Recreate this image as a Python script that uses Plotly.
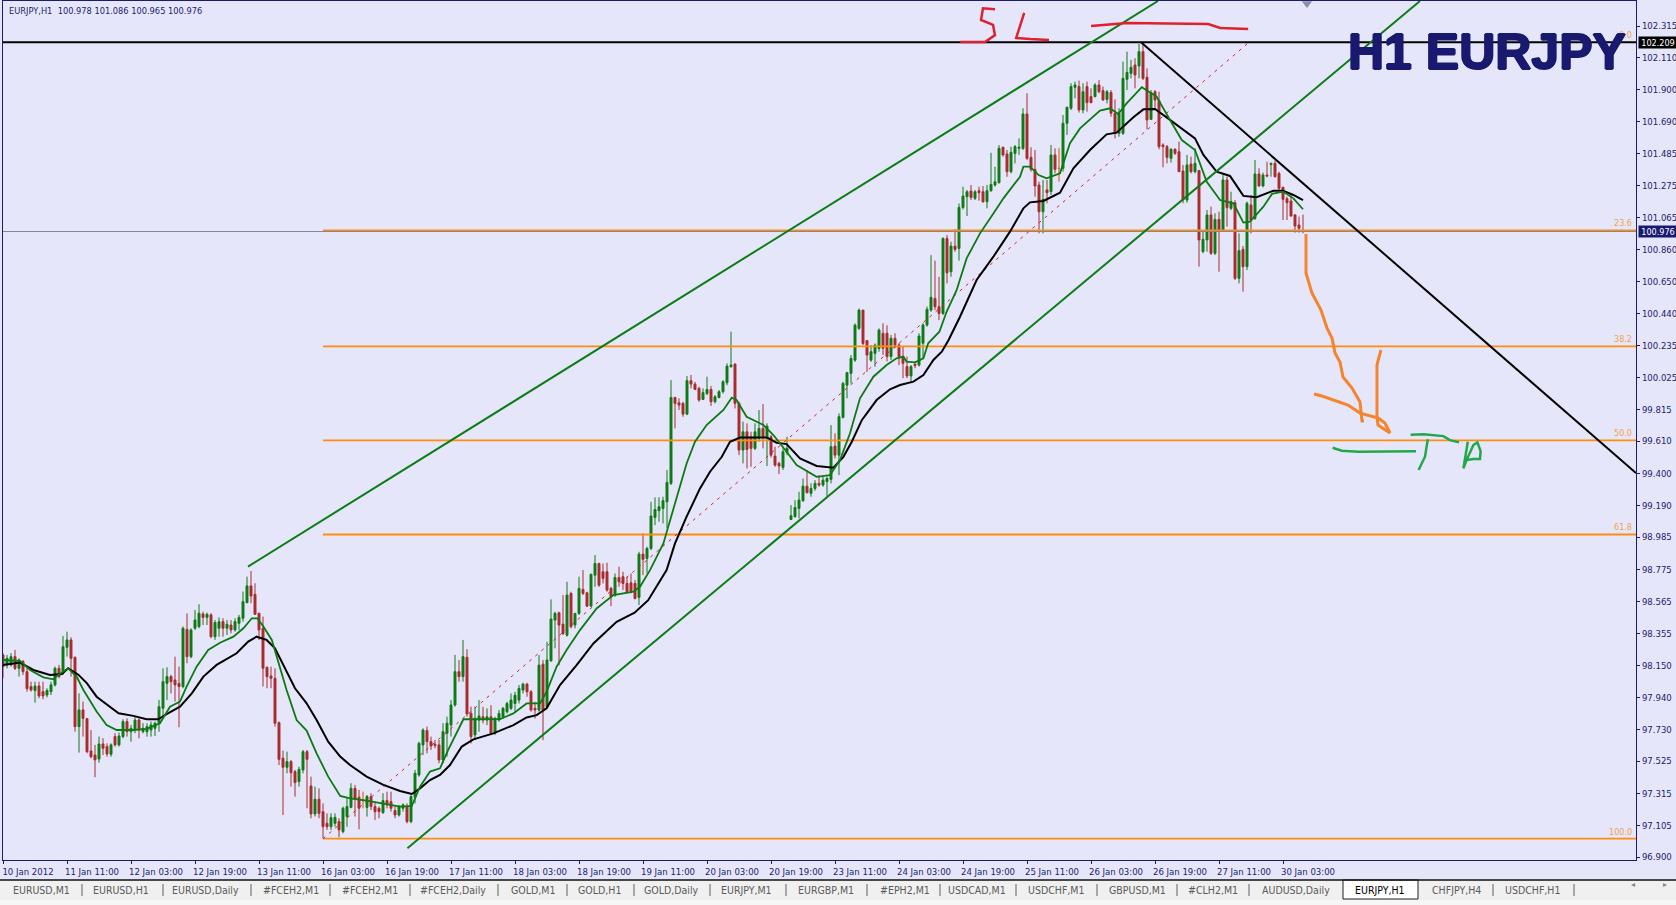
import plotly.graph_objects as go

# ---- bar axis: one bar per hour, labelled every 16 bars
time_labels = ["10 Jan 2012","11 Jan 11:00","12 Jan 03:00","12 Jan 19:00","13 Jan 11:00","16 Jan 03:00","16 Jan 19:00",
               "17 Jan 11:00","18 Jan 03:00","18 Jan 19:00","19 Jan 11:00","20 Jan 03:00","20 Jan 19:00","23 Jan 11:00",
               "24 Jan 03:00","24 Jan 19:00","25 Jan 11:00","26 Jan 03:00","26 Jan 19:00","27 Jan 11:00","30 Jan 03:00"]
price_ticks = [102.315,102.110,101.900,101.690,101.485,101.275,101.065,100.860,100.650,100.440,100.235,100.025,99.815,
               99.610,99.400,99.190,98.985,98.775,98.565,98.355,98.150,97.940,97.730,97.525,97.315,97.105,96.900]

opens = [98.217,98.152,98.152,98.206,98.130,98.174,98.108,98.011,97.985,98.015,
97.978,97.956,97.978,98.022,98.130,98.098,98.267,98.315,98.202,97.750,
97.859,97.802,97.591,97.565,97.539,97.637,97.620,97.570,97.685,97.631,
97.685,97.783,97.717,97.728,97.793,97.717,97.717,97.728,97.739,97.772,
97.870,98.032,98.076,98.054,98.032,98.011,98.384,98.206,98.391,98.402,
98.484,98.462,98.478,98.336,98.391,98.434,98.391,98.412,98.380,98.423,
98.456,98.558,98.667,98.612,98.489,98.391,98.137,98.080,98.065,97.776,
97.544,97.485,97.522,97.457,97.392,97.468,97.587,97.363,97.181,97.277,
97.196,97.120,97.098,97.120,97.131,97.066,97.164,97.224,97.348,97.290,
97.272,97.224,97.294,97.229,97.218,97.190,97.268,97.261,97.203,97.174,
97.218,97.229,97.131,97.290,97.435,97.631,97.724,97.652,97.635,97.631,
97.533,97.707,97.761,97.891,98.108,98.076,98.202,97.837,97.696,97.793,
97.814,97.793,97.814,97.706,97.793,97.814,97.847,97.869,97.901,97.923,
97.988,98.027,97.977,97.869,97.858,98.157,97.880,98.179,98.444,98.492,
98.418,98.346,98.618,98.412,98.488,98.644,98.622,98.535,98.737,98.813,
98.759,98.759,98.651,98.607,98.722,98.727,98.683,98.687,98.683,98.592,
98.874,98.846,98.911,99.113,99.157,99.172,99.215,99.335,99.895,99.860,
99.856,99.786,100.004,99.982,99.954,99.882,99.921,99.947,99.867,99.895,
99.932,99.991,100.095,100.112,99.856,99.552,99.671,99.639,99.563,99.628,
99.693,99.628,99.639,99.513,99.465,99.439,99.535,99.100,99.118,99.172,
99.222,99.317,99.270,99.302,99.335,99.324,99.346,99.361,99.578,99.519,
99.765,99.975,100.052,100.138,100.345,100.464,100.265,100.138,100.182,100.214,
100.313,100.313,100.161,100.280,100.237,100.161,100.096,100.035,100.111,100.106,
100.248,100.367,100.464,100.540,100.486,100.442,100.931,100.714,100.881,100.866,
101.133,101.203,101.240,101.192,101.242,101.235,101.170,101.242,101.279,101.294,
101.525,101.481,101.366,101.485,101.518,101.518,101.742,101.459,101.381,101.279,
101.105,101.247,101.236,101.475,101.388,101.388,101.681,101.779,101.916,101.920,
101.768,101.920,101.855,101.855,101.931,101.894,101.837,101.881,101.746,101.616,
101.616,101.968,102.007,102.061,102.055,102.148,101.981,101.707,101.887,101.829,
101.540,101.529,101.453,101.512,101.496,101.370,101.181,101.416,101.366,101.373,
100.845,100.921,101.084,100.834,101.055,100.982,101.312,101.127,101.164,100.671,
100.860,100.747,101.149,101.062,101.351,101.273,101.344,101.412,101.420,101.355,
101.264,101.190,101.175,101.084,101.018,100.978]

highs = [98.228,98.217,98.228,98.250,98.195,98.184,98.141,98.043,98.043,98.043,
98.043,98.000,98.043,98.141,98.152,98.341,98.369,98.332,98.206,97.967,
97.913,97.804,97.728,97.631,97.685,97.674,97.641,97.641,97.707,97.711,
97.798,97.804,97.761,97.815,97.804,97.772,97.772,97.783,97.783,97.924,
98.130,98.137,98.087,98.206,98.141,98.402,98.488,98.391,98.510,98.547,
98.499,98.493,98.489,98.445,98.462,98.456,98.445,98.445,98.456,98.478,
98.630,98.727,98.764,98.684,98.489,98.467,98.141,98.141,98.130,97.783,
97.594,97.587,97.533,97.468,97.489,97.598,97.598,97.424,97.359,97.348,
97.250,97.185,97.185,97.185,97.153,97.229,97.283,97.381,97.370,97.337,
97.326,97.305,97.316,97.261,97.229,97.316,97.326,97.326,97.229,97.240,
97.250,97.250,97.305,97.468,97.652,97.739,97.750,97.685,97.663,97.663,
97.772,97.815,97.924,98.217,98.184,98.315,98.254,97.880,97.880,97.923,
97.879,97.869,97.890,97.814,97.858,97.879,97.912,97.966,97.977,98.021,
98.036,98.036,97.988,97.912,98.216,98.184,98.303,98.579,98.499,98.499,
98.607,98.694,98.629,98.488,98.727,98.770,98.629,98.748,98.868,98.818,
98.813,98.818,98.661,98.748,98.792,98.759,98.727,98.748,98.705,98.889,
99.009,98.922,99.215,99.244,99.244,99.248,99.422,100.008,99.899,99.889,
99.867,100.034,100.041,99.997,99.965,99.954,100.030,99.969,99.910,99.943,
100.008,100.117,100.323,100.117,99.867,99.737,99.726,99.671,99.726,99.813,
99.852,99.726,99.650,99.574,99.476,99.563,99.639,99.194,99.226,99.280,
99.367,99.422,99.335,99.356,99.389,99.378,99.378,99.715,99.661,99.791,
99.997,100.062,100.171,100.377,100.475,100.464,100.269,100.236,100.247,100.345,
100.378,100.365,100.302,100.313,100.248,100.226,100.161,100.106,100.128,100.313,
100.378,100.487,100.822,100.786,100.681,100.938,100.953,100.909,100.992,101.159,
101.268,101.246,101.279,101.246,101.268,101.272,101.279,101.489,101.398,101.539,
101.529,101.507,101.529,101.540,101.583,101.779,101.877,101.525,101.507,101.301,
101.312,101.312,101.540,101.518,101.518,101.735,101.790,101.942,101.953,101.959,
101.942,101.953,101.909,101.942,101.963,101.920,101.898,101.898,101.837,101.779,
102.083,102.148,102.094,102.105,102.198,102.209,102.039,101.898,101.898,101.887,
101.551,101.540,101.518,101.518,101.562,101.410,101.475,101.464,101.518,101.377,
100.986,101.116,101.138,101.095,101.105,101.344,101.334,101.236,101.181,100.964,
100.882,101.171,101.214,101.442,101.388,101.360,101.431,101.425,101.438,101.366,
101.268,101.203,101.214,101.090,101.073,101.086]

lows = [98.065,98.130,98.141,98.119,98.076,98.087,97.978,97.978,97.906,97.935,
97.928,97.941,97.956,98.011,98.065,98.087,98.206,98.076,97.717,97.581,
97.685,97.576,97.544,97.420,97.515,97.565,97.554,97.554,97.620,97.620,
97.674,97.685,97.652,97.707,97.674,97.707,97.685,97.685,97.689,97.717,
97.815,97.924,97.967,97.913,97.746,98.000,98.163,98.195,98.380,98.391,
98.412,98.412,98.326,98.315,98.336,98.336,98.347,98.358,98.369,98.380,
98.434,98.554,98.554,98.478,98.315,98.011,98.000,98.000,97.750,97.500,
97.174,97.446,97.359,97.294,97.359,97.446,97.218,97.153,97.164,97.153,
97.022,97.077,97.077,97.098,97.029,97.055,97.098,97.218,97.164,97.081,
97.218,97.164,97.207,97.142,97.153,97.181,97.218,97.196,97.153,97.164,
97.196,97.120,97.120,97.250,97.424,97.565,97.576,97.598,97.609,97.511,
97.511,97.554,97.685,97.880,98.043,98.043,97.815,97.641,97.663,97.717,
97.771,97.760,97.695,97.695,97.782,97.803,97.836,97.858,97.847,97.901,
97.966,97.945,97.847,97.803,97.847,97.662,97.869,98.173,98.260,98.151,
98.346,98.336,98.390,98.390,98.477,98.607,98.531,98.531,98.661,98.661,
98.683,98.629,98.535,98.596,98.661,98.640,98.618,98.618,98.579,98.542,
98.737,98.748,98.900,99.063,99.085,99.074,99.042,99.324,99.693,99.813,
99.769,99.780,99.954,99.943,99.867,99.878,99.910,99.839,99.856,99.889,
99.921,99.975,100.090,99.823,99.519,99.465,99.432,99.443,99.552,99.606,
99.563,99.448,99.504,99.443,99.396,99.422,99.519,99.096,99.113,99.107,
99.215,99.270,99.248,99.287,99.313,99.313,99.248,99.335,99.498,99.389,
99.758,99.889,99.986,100.127,100.334,100.236,100.062,100.127,100.095,100.193,
100.172,100.130,100.139,100.215,100.106,100.020,100.020,99.998,100.085,100.096,
100.150,100.356,100.453,100.464,100.399,100.432,100.638,100.681,100.844,100.786,
101.120,101.077,101.181,101.181,101.177,101.164,101.127,101.235,101.268,101.289,
101.464,101.333,101.355,101.420,101.475,101.507,101.442,101.366,101.203,100.964,
100.964,101.160,101.214,101.355,101.301,101.366,101.605,101.768,101.844,101.751,
101.746,101.757,101.811,101.850,101.877,101.829,101.811,101.724,101.583,101.594,
101.605,101.898,101.974,101.909,101.974,101.963,101.642,101.703,101.779,101.512,
101.394,101.420,101.425,101.475,101.366,101.160,101.164,101.355,101.355,100.747,
100.834,100.845,100.823,100.823,100.714,100.975,101.008,101.116,100.660,100.638,
100.584,100.725,100.964,101.051,101.268,101.264,101.329,101.333,101.329,101.247,
101.051,101.051,101.073,100.969,100.969,100.965]

closes = [98.141,98.195,98.206,98.130,98.184,98.108,97.998,97.989,98.015,97.950,
97.950,97.985,98.022,98.130,98.076,98.271,98.315,98.195,97.750,97.859,
97.804,97.587,97.554,97.533,97.637,97.609,97.572,97.631,97.631,97.689,
97.783,97.717,97.739,97.793,97.728,97.739,97.750,97.761,97.772,97.880,
98.043,98.076,98.043,98.022,98.011,98.391,98.206,98.380,98.445,98.489,
98.462,98.482,98.336,98.428,98.434,98.391,98.417,98.380,98.434,98.462,
98.564,98.667,98.601,98.482,98.380,98.130,98.076,98.065,97.772,97.537,
97.485,97.522,97.450,97.385,97.472,97.587,97.537,97.181,97.277,97.185,
97.098,97.098,97.157,97.159,97.077,97.218,97.229,97.348,97.277,97.218,
97.268,97.294,97.229,97.196,97.196,97.268,97.240,97.218,97.174,97.229,
97.240,97.131,97.294,97.446,97.641,97.728,97.652,97.624,97.626,97.533,
97.717,97.772,97.891,98.108,98.076,98.206,97.833,97.685,97.804,97.819,
97.793,97.814,97.706,97.803,97.836,97.869,97.901,97.923,97.955,97.999,
98.027,97.977,97.858,97.858,98.151,97.858,98.184,98.451,98.488,98.412,
98.357,98.607,98.401,98.488,98.651,98.618,98.535,98.742,98.813,98.672,
98.716,98.640,98.596,98.722,98.694,98.683,98.629,98.629,98.585,98.874,
98.840,98.911,99.122,99.165,99.183,99.222,99.341,99.895,99.856,99.845,
99.786,100.004,99.982,99.947,99.878,99.926,99.947,99.867,99.899,99.932,
99.997,100.099,100.106,99.856,99.552,99.671,99.556,99.563,99.671,99.693,
99.639,99.708,99.519,99.454,99.448,99.541,99.563,99.124,99.178,99.226,
99.317,99.274,99.302,99.335,99.324,99.356,99.367,99.574,99.519,99.769,
99.986,100.056,100.149,100.366,100.464,100.247,100.171,100.193,100.236,100.334,
100.215,100.161,100.280,100.237,100.161,100.117,100.035,100.096,100.102,100.295,
100.367,100.469,100.547,100.486,100.442,100.931,100.707,100.881,100.859,101.133,
101.207,101.235,101.198,101.235,101.229,101.170,101.242,101.283,101.300,101.518,
101.475,101.366,101.492,101.529,101.525,101.742,101.453,101.381,101.273,101.105,
101.186,101.229,101.475,101.381,101.386,101.681,101.785,101.920,101.931,101.768,
101.887,101.816,101.816,101.931,101.887,101.833,101.887,101.746,101.616,101.746,
101.974,102.013,102.046,101.996,102.148,101.974,101.703,101.881,101.833,101.529,
101.529,101.459,101.512,101.486,101.366,101.181,101.410,101.366,101.420,100.921,
100.925,101.084,100.834,101.055,100.986,101.312,101.131,101.171,100.671,100.851,
100.747,101.160,101.051,101.351,101.273,101.344,101.338,101.420,101.333,101.257,
101.186,101.164,101.077,101.012,100.997,100.976]

doji_bars = [90, 264]

# moving averages, read at the bends of each curve
fast_ma_bar = [0,4.25,6.75,10.1,12.6,13.8,16.3,18.4,20.1,23.4,25.9,28.4,32.6,35.9,39.25,41.75,44.25,45.9,48.4,51.3,54.25,57.6,
    60.1,62.2,63.6,65.1,67.2,68.9,70.9,73.4,75.9,78.4,81.3,84.3,86.75,90.9,95.1,99.25,102.2,104.25,106.75,109.25,111.3,115.1,
    119.25,124.25,127.6,130.9,134.25,135.9,138.4,140.9,144.25,148.4,152.6,157.6,159.25,161.75,165.1,166.75,168.4,170.9,173,
    175.9,180.1,182.2,183.4,185.9,190.1,192.6,195.9,198.4,203.4,206.75,209.25,211.75,214.25,217.6,220.9,223.4,225.1,225.9,228,
    230.1,231.3,234.1,235.9,238.4,240.9,244.25,247.6,250.1,254.25,255.1,256.75,258.9,260.9,264.25,266.75,269.25,274.25,276.75,
    278.8,280.9,284.7,285.9,288.4,291.75,294.7,298,300.9,304.25,307.6,310.1,311.75,315.1,317.25,320,322.6,325]
fast_ma_val = [98.184,98.178,98.119,98.071,98.058,98.087,98.130,98.076,97.989,97.848,97.761,97.728,97.728,97.735,97.772,97.880,
    97.913,98.011,98.141,98.250,98.297,98.336,98.391,98.456,98.456,98.402,98.315,98.163,97.989,97.793,97.724,97.576,97.424,
    97.298,97.283,97.268,97.250,97.229,97.233,97.359,97.457,97.478,97.598,97.798,97.798,97.799,97.836,97.901,97.901,97.977,
    98.140,98.249,98.379,98.520,98.607,98.629,98.661,98.770,98.944,99.096,99.248,99.465,99.606,99.715,99.813,99.893,99.878,
    99.769,99.715,99.650,99.541,99.454,99.378,99.389,99.487,99.661,99.889,100.030,100.106,100.150,100.161,100.128,100.124,
    100.150,100.248,100.323,100.453,100.594,100.801,100.964,101.094,101.192,101.333,101.399,101.399,101.344,101.323,101.355,
    101.551,101.648,101.764,101.779,101.742,101.811,101.916,101.898,101.855,101.703,101.572,101.507,101.301,101.181,101.160,
    101.034,101.040,101.138,101.221,101.236,101.192,101.121]

slow_ma_bar = [0,4.25,7.6,11.75,14.7,16.3,18.9,21,23.4,26.75,28.9,32.6,35.9,38.8,40.9,44.25,47.2,50.1,53.4,58.4,61.3,63.4,65.9,
    68,70.1,73,75.9,78.4,81.3,84.3,86.75,90.9,95.1,99.25,102.2,104.25,106.75,109.25,111.75,114.7,117.6,122.6,127.6,130.9,133.4,
    135.9,139.25,143.4,147.6,153.4,157.9,161.3,165.9,168,170.9,174.25,176.75,179.7,181.75,184.25,190.9,193.4,195.9,199.25,203.4,
    207.6,210.1,212.2,214.7,218.4,221.75,224.25,227.6,230.1,232.6,234.7,236.4,239.25,243.4,247.6,251.75,254.25,255.1,256.75,
    260.1,264.25,267.6,271.75,275.9,278.4,282.6,285.1,288,290.9,294.25,298,300.1,303.4,306.75,310.1,313.4,317.6,320,322.6,325]
slow_ma_val = [98.152,98.167,98.119,98.087,98.093,98.130,98.087,98.032,97.945,97.880,97.837,97.820,97.798,97.798,97.832,97.880,
    97.967,98.076,98.152,98.228,98.304,98.336,98.315,98.260,98.152,98.000,97.902,97.793,97.652,97.555,97.500,97.424,97.370,
    97.331,97.311,97.348,97.402,97.435,97.500,97.620,97.667,97.706,97.760,97.810,97.825,97.869,98.021,98.151,98.292,98.433,
    98.492,98.574,98.770,98.944,99.118,99.302,99.411,99.508,99.606,99.634,99.634,99.600,99.591,99.498,99.448,99.437,99.508,
    99.606,99.747,99.878,99.948,99.976,99.998,100.041,100.139,100.193,100.269,100.421,100.660,100.812,100.975,101.083,101.127,
    101.166,101.175,101.229,101.388,101.507,101.609,101.620,101.720,101.772,101.774,101.720,101.655,101.583,101.475,101.366,
    101.338,101.208,101.199,101.242,101.242,101.214,101.181]

# trend lines (bar number, price)
channel_upper_bar, channel_upper_price = [61.25, 288.75], [98.793, 102.478]
channel_lower_bar, channel_lower_price = [101.1, 354.25], [96.957, 102.478]
downtrend_bar, downtrend_price = [284.5, 408.25], [102.209, 99.402]
fibo_trend_bar, fibo_trend_price = [80, 311.5], [97.020, 102.209]

fibo_start_bar, chart_end_bar, chart_start_bar = 80, 408.25, 0
fibo_levels = {"100.0": 97.020, "61.8": 99.002, "50.0": 99.615, "38.2": 100.227, "23.6": 100.984}
stop_level, last_price = 102.209, 100.976

# hand-drawn marks (bar number, price)
sl_s_bar = [248,245,244.5,247.5,248,245.5,242.5,239.3]
sl_s_price = [102.424,102.430,102.354,102.322,102.256,102.211,102.211,102.211]
sl_l_bar = [255.3,253.3,256.8,261.5]
sl_l_price = [102.400,102.237,102.230,102.224]
sl_bar_bar = [272,281,301.3,304.3,311.3]
sl_bar_price = [102.315,102.335,102.328,102.302,102.295]
arrow_a_bar = [325.75,325.75,327.25,329.5,331,332.25,333,334.25,335,337.25,339.25,339.5,339.75,340.25]
arrow_a_price = [100.960,100.706,100.575,100.464,100.347,100.282,100.184,100.126,100.028,99.956,99.865,99.800,99.741,99.741]
arrow_b_bar = [327.75,329.75,336.25,339.25,343.75,345.5,346.75,343.75,343.5,343.5,344,344.5]
arrow_b_price = [99.917,99.904,99.845,99.793,99.761,99.728,99.663,99.715,99.761,100.106,100.158,100.204]
tp_dash_bar = [332.4,334.7,338.8,353.25]
tp_dash_price = [99.567,99.548,99.541,99.544]
tp_t_top_bar = [351.9,355.1,360.1,361.75,364]
tp_t_top_price = [99.652,99.655,99.643,99.617,99.602]
tp_t_stem_bar = [356.2,355.5,353.9]
tp_t_stem_price = [99.622,99.509,99.422]
tp_p_bar = [366.2,365.1,365.9,367.6,369.25,369.4,368.6,367.6,365.9]
tp_p_price = [99.606,99.433,99.487,99.494,99.494,99.545,99.602,99.585,99.487]

tab_names = ["EURUSD,M1","EURUSD,H1","EURUSD,Daily","#FCEH2,M1","#FCEH2,M1","#FCEH2,Daily","GOLD,M1","GOLD,H1","GOLD,Daily",
             "EURJPY,M1","EURGBP,M1","#EPH2,M1","USDCAD,M1","USDCHF,M1","GBPUSD,M1","#CLH2,M1","AUDUSD,Daily","EURJPY,H1",
             "CHFJPY,H4","USDCHF,H1"]
title_text = "EURJPY,H1  100.978 101.086 100.965 100.976"
banner_text = "H1 EURJPY"

# ---- styles
BG, NAVY = "#e6e6fa", "#1c1c6e"
UP, DOWN = "#0e7a14", "#a82c2e"
FIB = "#ff8c0a"
FIBTXT = "#f2a24a"
FONT = "DejaVu Sans Condensed, Liberation Sans, sans-serif"
L, R, T, B = 3, 1636, 1, 860            # plot box in the page
W, H = 1676, 905
def px(x): return (x - L) / (R - L)     # page pixel -> paper, for window furniture only
def py(y): return (B - y) / (B - T)

fig = go.Figure()
bars = list(range(len(closes)))
fig.add_trace(go.Candlestick(x=bars, open=opens, high=highs, low=lows, close=closes,
    increasing=dict(line=dict(color=UP, width=1), fillcolor=UP),
    decreasing=dict(line=dict(color=DOWN, width=1), fillcolor=DOWN),
    whiskerwidth=0, hoverinfo="skip"))
dx, dy = [], []
for b in doji_bars:
    dx += [b, b, None]; dy += [highs[b], lows[b], None]
fig.add_trace(go.Scatter(x=dx, y=dy, mode="lines", line=dict(color="#eeb060", width=1)))

def line(x, y, color, width, dash=None):
    fig.add_trace(go.Scatter(x=x, y=y, mode="lines", line=dict(color=color, width=width, dash=dash), hoverinfo="skip"))

for name, lv in fibo_levels.items():
    line([fibo_start_bar, chart_end_bar], [lv, lv], FIB, 1.8)
line([chart_start_bar, chart_end_bar], [last_price, last_price], "#85859a", 1)
line([chart_start_bar, chart_end_bar], [stop_level, stop_level], "#000000", 2)
line(fibo_trend_bar, fibo_trend_price, "#cc2238", 1, "3px,5px")
line(slow_ma_bar, slow_ma_val, "#000000", 2)
line(fast_ma_bar, fast_ma_val, "#0c7a12", 1.8)
line(channel_upper_bar, channel_upper_price, "#0c7d14", 2)
line(channel_lower_bar, channel_lower_price, "#0c7d14", 2)
line(downtrend_bar, downtrend_price, "#000000", 2)
for xs, ys in [(sl_s_bar, sl_s_price), (sl_l_bar, sl_l_price), (sl_bar_bar, sl_bar_price)]:
    line(xs, ys, "#e0202e", 2.5)
for xs, ys in [(arrow_a_bar, arrow_a_price), (arrow_b_bar, arrow_b_price)]:
    line(xs, ys, "#f5842c", 3)
for xs, ys in [(tp_dash_bar, tp_dash_price), (tp_t_top_bar, tp_t_top_price), (tp_t_stem_bar, tp_t_stem_price), (tp_p_bar, tp_p_price)]:
    line(xs, ys, "#22a84a", 2.5)
fig.add_trace(go.Scatter(x=[326], y=[102.462], mode="markers", cliponaxis=False,
    marker=dict(symbol="triangle-down", size=9, color="#8a8ea6"), hoverinfo="skip"))

ann = []
ann.append(dict(text=title_text, x=px(7), y=py(10), xref="paper", yref="paper", xanchor="left", yanchor="middle",
                showarrow=False, font=dict(family=FONT, size=9.2, color=NAVY)))
for name, lv in list(fibo_levels.items()) + [("0.0", stop_level)]:
    ann.append(dict(text=name, x=px(1634), y=lv, xref="paper", yref="y", xanchor="right", yanchor="bottom",
                    showarrow=False, font=dict(family=FONT, size=9, color=FIBTXT)))
thick = "1px 0 0 #191970,-1px 0 0 #191970,0 1px 0 #191970,0 -1px 0 #191970"
ann.append(dict(text="<b>%s</b>" % banner_text, x=px(1628), y=py(52), xref="paper", yref="paper", xanchor="right", yanchor="middle",
                showarrow=False, font=dict(family="Liberation Sans, Arial, sans-serif", size=50, color="#191970", shadow=thick)))
for val, bg in [(stop_level, "#000000"), (last_price, "#191970")]:
    ann.append(dict(text="%.3f" % val, x=px(1638), y=val, xref="paper", yref="y", xanchor="left", yanchor="middle",
                    showarrow=False, bgcolor=bg, borderpad=0, width=38, height=11, align="center",
                    font=dict(family=FONT, size=9, color="#ffffff")))

# tab strip
tab_centers = [41,121,205,291,370,453,533,599,671,746,826,905,977,1056,1137,1213,1296,1380,1456,1532]
separators = [82,163,251,330,410,498,567,634,710,786,867,940,1016,1097,1177,1249,1493,1574]
shapes = [
    dict(type="rect", xref="paper", yref="paper", x0=px(0), x1=px(W), y0=py(880), y1=py(900), fillcolor="#f0f0f0", line_width=0, layer="below"),
    dict(type="rect", xref="paper", yref="paper", x0=px(0), x1=px(W), y0=py(900), y1=py(W), fillcolor="#f6f6f6", line_width=0, layer="below"),
    dict(type="rect", xref="paper", yref="paper", x0=px(1343), x1=px(1418), y0=py(880), y1=py(899), fillcolor="#ffffff",
         line=dict(color="#202020", width=1), layer="below"),
    dict(type="line", xref="paper", yref="paper", x0=px(0), x1=px(W), y0=py(880), y1=py(880), line=dict(color="#101010", width=1.5)),
]
for s in separators:
    shapes.append(dict(type="line", xref="paper", yref="paper", x0=px(s), x1=px(s), y0=py(884), y1=py(896), line=dict(color="#606060", width=1)))
for c, name in zip(tab_centers, tab_names):
    active = name == "EURJPY,H1"
    ann.append(dict(text=name, x=px(c), y=py(889.5), xref="paper", yref="paper", xanchor="center", yanchor="middle", showarrow=False,
                    font=dict(family=FONT, size=10.5, color="#000000" if active else "#5a5a5a")))
for x, t in [(1637, "◂"), (1669, "▸")]:
    ann.append(dict(text=t, x=px(x), y=py(891), xref="paper", yref="paper", showarrow=False, font=dict(size=8, color="#8a8a8a")))

fig.update_layout(
    width=W, height=H, margin=dict(l=L, r=W - R, t=T, b=H - B, pad=0, autoexpand=False),
    paper_bgcolor=BG, plot_bgcolor=BG, showlegend=False, hovermode=False,
    shapes=shapes, annotations=ann,
    xaxis=dict(range=[chart_start_bar, chart_end_bar], rangeslider=dict(visible=False), showgrid=False, zeroline=False,
               tickmode="array", tickvals=[16 * k for k in range(len(time_labels))], ticktext=time_labels, ticks="outside",
               ticklen=3, tickwidth=1, tickcolor=NAVY, tickangle=0, ticklabelshift=25, showline=True, linecolor=NAVY, linewidth=1, mirror=True,
               tickfont=dict(family=FONT, size=9.5, color=NAVY)),
    yaxis=dict(range=[96.881, 102.478], side="right", showgrid=False, zeroline=False, tickmode="array", tickvals=price_ticks,
               tickformat=".3f", ticks="outside", ticklen=3, tickwidth=1, tickcolor=NAVY, showline=True, linecolor=NAVY, linewidth=1,
               mirror=True, tickfont=dict(family=FONT, size=9.5, color=NAVY)),
)
fig.write_html("out.html", config={"displayModeBar": False}, post_script="document.body.style.margin='0';")
